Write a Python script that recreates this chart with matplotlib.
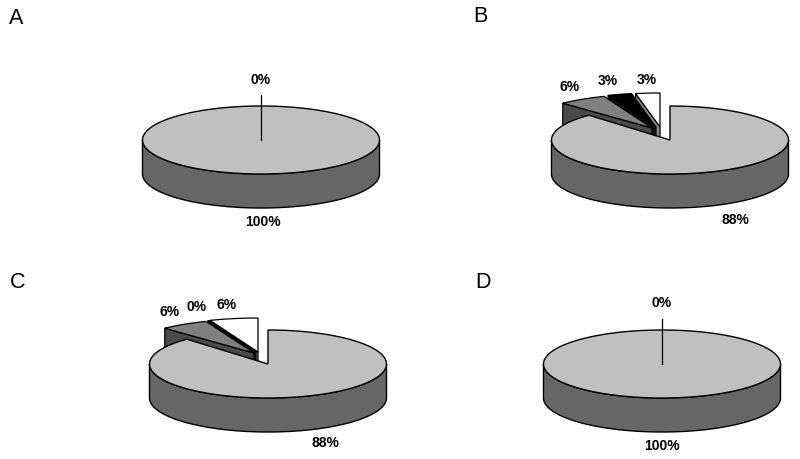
import numpy as np
import matplotlib
matplotlib.use('Agg')
import matplotlib.pyplot as plt
from matplotlib.patches import Polygon

plt.rcParams['font.family'] = ['Liberation Sans', 'DejaVu Sans']

panel_names = ['A', 'B', 'C', 'D']
# percentages, first entry is the big slice going clockwise from 12 o'clock
values_a = [100, 0]
values_b = [88, 6, 3, 3]
values_c = [88, 6, 0, 6]
values_d = [100, 0]
labels_a = ['100%', '0%']
labels_b = ['88%', '6%', '3%', '3%']
labels_c = ['88%', '6%', '0%', '6%']
labels_d = ['100%', '0%']

# layout, all in pixels of the 800x459 picture
RX, RY, DEPTH = 118.5, 34, 34
PULLED_SCALE = 1.1  # pulled slices look a bit wider than the pie
centers = {'A': (261, 140), 'B': (670, 140), 'C': (268, 364), 'D': (662, 364)}
letter_pos = {'A': (16, 19), 'B': (480, 17), 'C': (18, 283), 'D': (483, 283)}
shifts = {'A': [], 'D': [],
          'B': [(-18, -12), (-14, -13), (-10, -13)],
          'C': [(-14, -11), (-12, -12), (-10, -12)]}
label_pos = {'A': [(263, 222), (261, 80)],
             'B': [(735, 220), (570, 87), (608, 81), (647, 80)],
             'C': [(325, 443), (170, 312), (197, 307), (227, 305)],
             'D': [(662, 446), (662, 303)]}

slice_tops = ['#808080', '#000000', '#ffffff']
slice_sides = ['#4a4a4a', '#111111', '#8c8c8c']
main_top = '#c0c0c0'
main_side = '#666666'


def rim(cx, cy, deg, scale=1.0):
    t = np.radians(deg)
    return np.column_stack([cx + scale * RX * np.sin(t), cy - RY * np.cos(t)])


def draw_small_slice(ax, cx, cy, start, stop, top, side):
    # wedge pulled out of the pie: cut face on its left, then the top
    p = rim(cx, cy, start, PULLED_SCALE)[0]
    face = [p, (cx, cy), (cx, cy + DEPTH), (p[0], p[1] + DEPTH)]
    ax.add_patch(Polygon(face, closed=True, fc=side, ec='black', lw=0.9))
    arc = rim(cx, cy, np.linspace(start, stop, 30), PULLED_SCALE)
    ax.add_patch(Polygon(np.vstack([[(cx, cy)], arc]), closed=True, fc=top, ec='black', lw=0.9))


def draw_pie(ax, name, values, labels):
    cx, cy = centers[name]
    main = values[0] * 3.6
    # pulled slices go from right to left so the left ones lie on top
    stops = main + np.cumsum(np.array(values[1:]) * 3.6)
    if main < 360:
        for i in reversed(range(len(values) - 1)):
            dx, dy = shifts[name][i]
            start = stops[i] - values[i + 1] * 3.6
            draw_small_slice(ax, cx + dx, cy + dy, start - 360, stops[i] - 360,
                             slice_tops[i], slice_sides[i])
    # front wall of the big slice
    front = rim(cx, cy, np.linspace(90, 270, 80))
    wall = np.vstack([front, front[::-1] + [0, DEPTH]])
    ax.add_patch(Polygon(wall, closed=True, fc=main_side, ec='black', lw=1.0))
    arc = rim(cx, cy, np.linspace(0, main, 200))
    if main < 360:
        arc = np.vstack([[(cx, cy)], arc])
    ax.add_patch(Polygon(arc, closed=True, fc=main_top, ec='black', lw=1.0))
    if main >= 360:
        # the empty slice only shows as a leader line
        ax.plot([cx, cx], [cy, cy - RY - 11], color='black', lw=0.9)
    for txt, (x, y) in zip(labels, label_pos[name]):
        ax.text(x, y, txt, ha='center', va='center', fontsize=10, fontweight='bold', color='black')
    lx, ly = letter_pos[name]
    ax.text(lx, ly, name, ha='center', va='center', fontsize=15.5, color='black')


fig = plt.figure(figsize=(8, 4.59), dpi=100)
ax = fig.add_axes([0, 0, 1, 1])
ax.set_xlim(0, 800)
ax.set_ylim(459, 0)
ax.axis('off')

draw_pie(ax, 'A', values_a, labels_a)
draw_pie(ax, 'B', values_b, labels_b)
draw_pie(ax, 'C', values_c, labels_c)
draw_pie(ax, 'D', values_d, labels_d)

fig.savefig('out.png', dpi=100)
